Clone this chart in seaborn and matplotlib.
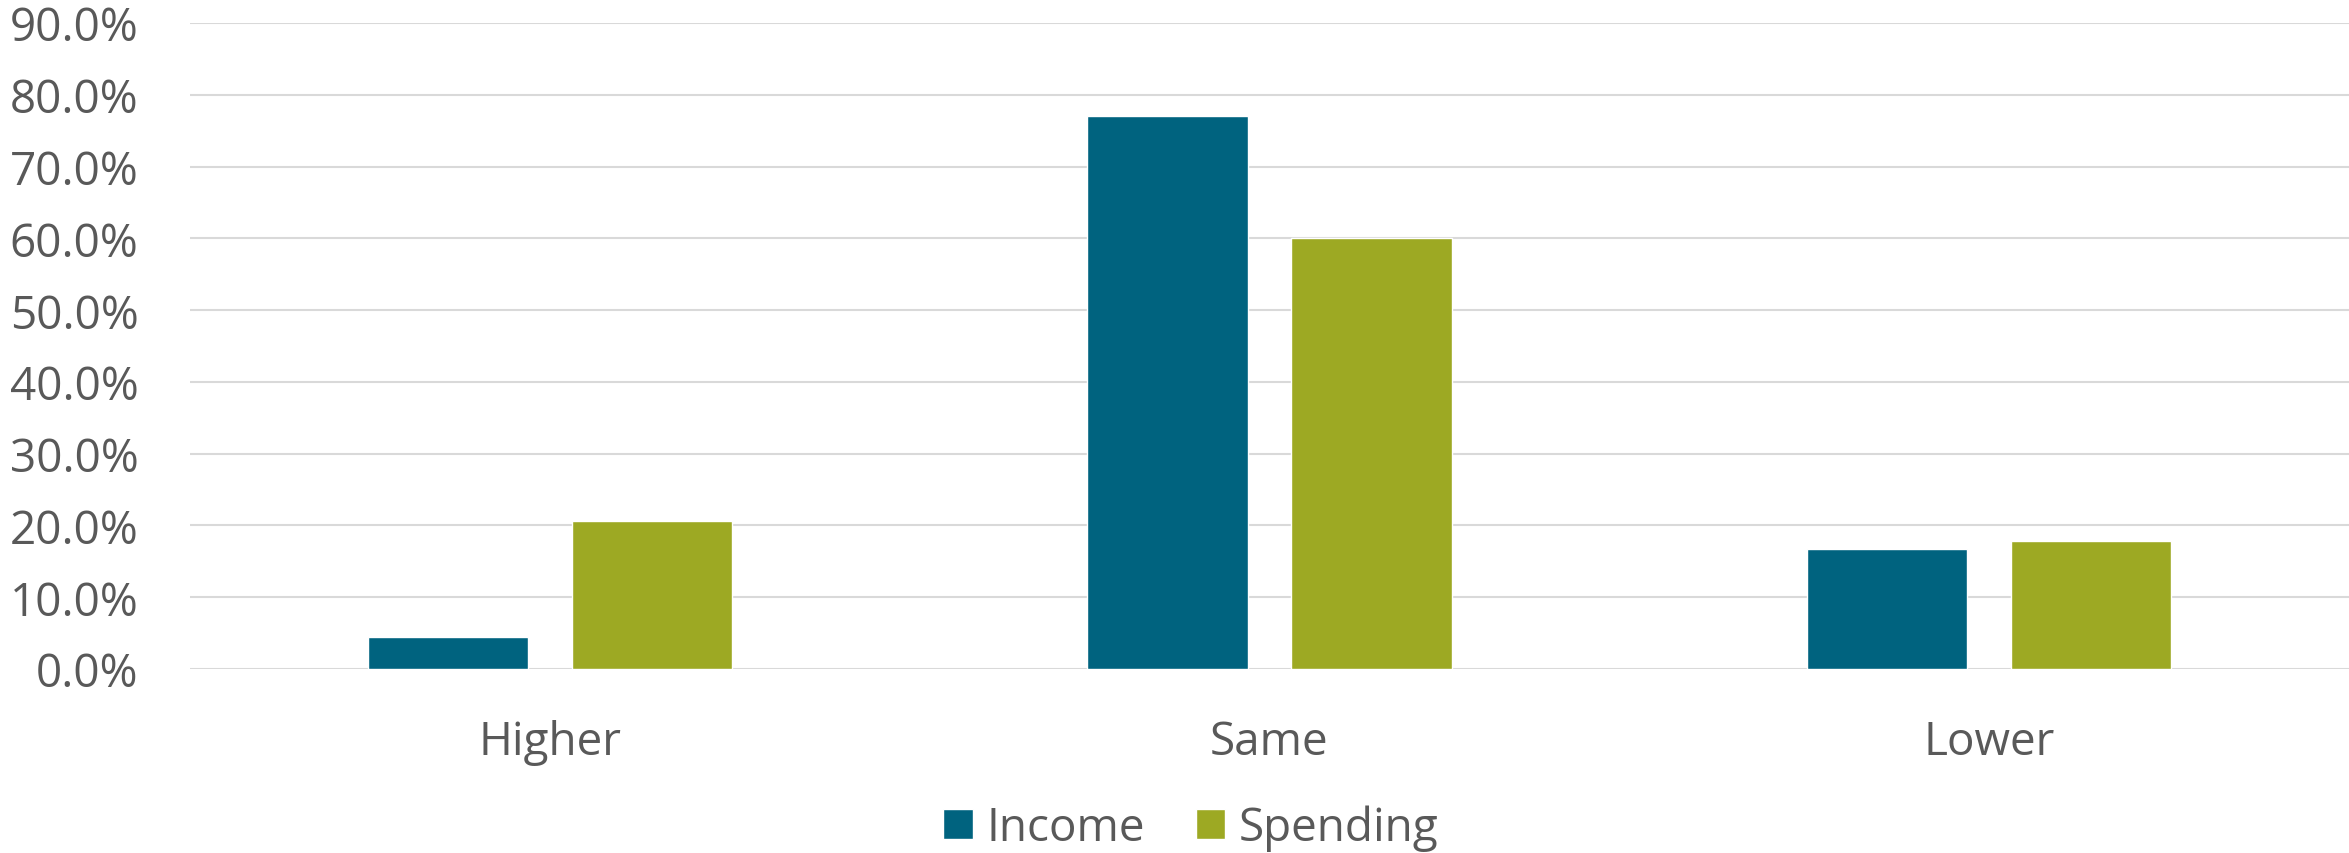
import pandas as pd
import matplotlib
matplotlib.use("Agg")
import matplotlib.pyplot as plt
import seaborn as sns
from matplotlib.ticker import PercentFormatter, MultipleLocator

# ================= DATA =================
categories = ["Higher", "Same", "Lower"]
income = [4.5, 77.1, 16.7]
spending = [20.6, 60.0, 17.8]
series = ["Income", "Spending"]

colors = ["#00637F", "#9DA923"]
text_color = "#595959"
grid_color = "#D9D9D9"

df = pd.DataFrame({
    "category": categories * 2,
    "value": income + spending,
    "series": [series[0]] * len(categories) + [series[1]] * len(categories),
})

# ================= STYLE =================
sns.set_style("white")
plt.rcParams["font.family"] = ["Open Sans", "DejaVu Sans"]

fig = plt.figure(figsize=(23.49, 8.54), dpi=100)
ax = fig.add_axes([190 / 2349, 1 - 670 / 854, 1 - 190 / 2349, (670 - 24) / 854])

sns.barplot(
    data=df, x="category", y="value", hue="series",
    order=categories, hue_order=series, palette=colors,
    width=0.567, gap=0.213, saturation=1, ax=ax, legend=True,
)

# ================= AXES =================
ax.set_xlim(-0.5, 2.5)
ax.set_ylim(0, 90)
ax.yaxis.set_major_locator(MultipleLocator(10))
ax.yaxis.set_major_formatter(PercentFormatter(xmax=100, decimals=1))
ax.set_axisbelow(True)
ax.grid(axis="y", color=grid_color, linewidth=1.5)
ax.grid(axis="x", visible=False)
for side in ["top", "right", "left", "bottom"]:
    ax.spines[side].set_visible(False)

ax.set_xlabel("")
ax.set_ylabel("")
ax.tick_params(axis="y", length=0, pad=37, labelsize=33, labelcolor=text_color)
ax.tick_params(axis="x", length=0, pad=36, labelsize=33, labelcolor=text_color)

# ================= LEGEND =================
handles, labels = ax.get_legend_handles_labels()
ax.legend_.remove()
fig.legend(
    handles, labels, loc="center", bbox_to_anchor=(1191 / 2349, 1 - 829 / 854),
    ncol=2, frameon=False, fontsize=33, labelcolor=text_color,
    handlelength=0.65, handleheight=0.65, handletextpad=0.3,
    columnspacing=1.1, borderpad=0, borderaxespad=0,
)

plt.savefig("out.png", dpi=100)
plt.close()
